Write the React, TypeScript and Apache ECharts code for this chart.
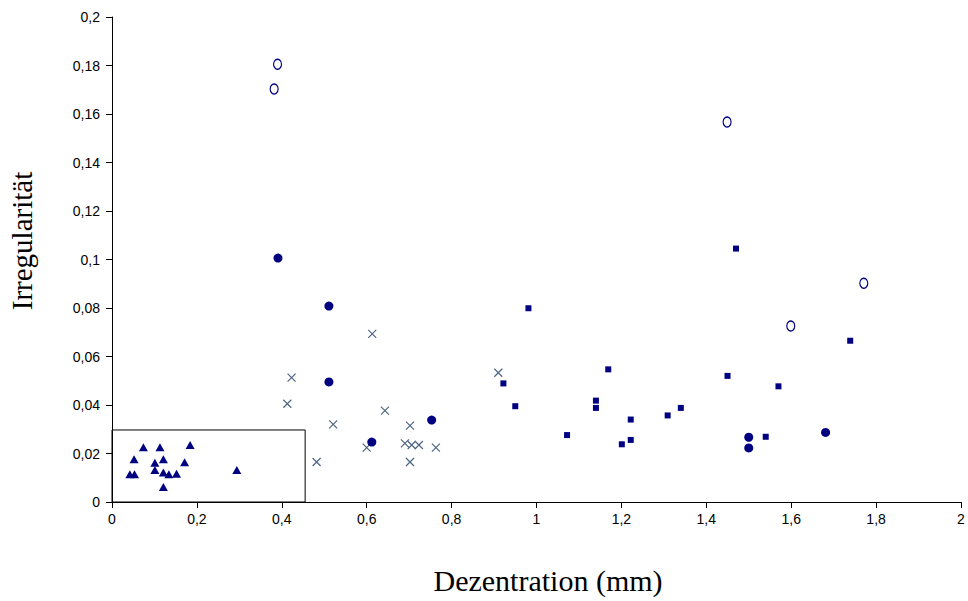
import React, { useEffect, useRef } from "react";
import * as echarts from "echarts";

// [Dezentration (mm), Irregularität]
const triangles: [number, number][] = [
  [0.074, 0.0226], [0.113, 0.0226], [0.184, 0.0235], [0.052, 0.0176],
  [0.101, 0.0162], [0.121, 0.0176], [0.171, 0.0164], [0.042, 0.0114],
  [0.053, 0.0114], [0.101, 0.0132], [0.121, 0.0122], [0.134, 0.0114],
  [0.152, 0.0117], [0.121, 0.0062], [0.294, 0.0132],
];

const crosses: [number, number][] = [
  [0.613, 0.0693], [0.423, 0.0513], [0.413, 0.0405], [0.643, 0.0377],
  [0.521, 0.032], [0.702, 0.0315], [0.6, 0.0224], [0.69, 0.0242],
  [0.706, 0.0235], [0.723, 0.0235], [0.763, 0.0224], [0.482, 0.0165],
  [0.702, 0.0165], [0.91, 0.0533],
];

const filledCircles: [number, number][] = [
  [0.391, 0.1006], [0.511, 0.0808], [0.511, 0.0495], [0.612, 0.0247],
  [0.753, 0.0338], [1.5, 0.0267], [1.5, 0.0223], [1.681, 0.0287],
];

const openCircles: [number, number][] = [
  [0.39, 0.1805], [0.382, 0.1703], [1.449, 0.1567], [1.599, 0.0726],
  [1.771, 0.0902],
];

const squares: [number, number][] = [
  [0.981, 0.0799], [0.922, 0.0489], [0.95, 0.0395], [1.169, 0.0547],
  [1.14, 0.0418], [1.14, 0.0388], [1.072, 0.0276], [1.222, 0.034],
  [1.222, 0.0256], [1.201, 0.0238], [1.309, 0.0357], [1.34, 0.0388],
  [1.47, 0.1045], [1.45, 0.052], [1.57, 0.0477], [1.739, 0.0665],
  [1.54, 0.0269],
];

// Region enclosing the triangle group: upper-right corner
const boxCorner: [number, number] = [0.455, 0.0297];

const xTicks = [0, 0.2, 0.4, 0.6, 0.8, 1, 1.2, 1.4, 1.6, 1.8, 2];
const yTicks = [0, 0.02, 0.04, 0.06, 0.08, 0.1, 0.12, 0.14, 0.16, 0.18, 0.2];

const NAVY = "#000080";
const CROSS = "#4d6584";

const fmt = (v: number) => String(Math.round(v * 1000) / 1000).replace(".", ",");

export default function App() {
  const ref = useRef<HTMLDivElement>(null);

  useEffect(() => {
    if (!ref.current) return;
    const chart = echarts.init(ref.current, undefined, { renderer: "svg" });
    const axisCommon = {
      axisLine: { show: true, lineStyle: { color: "#000", width: 1 } },
      axisTick: { show: true, length: 6, lineStyle: { color: "#000" } },
      splitLine: { show: false },
    };
    const labelCommon = {
      color: "#000",
      fontFamily: "Liberation Sans, Arial",
      fontSize: 14,
      formatter: fmt,
    };
    chart.setOption({
      animation: false,
      backgroundColor: "#fff",
      grid: { left: 112, right: 7, top: 17, bottom: 99, containLabel: false },
      xAxis: {
        type: "value",
        min: xTicks[0],
        max: xTicks[xTicks.length - 1],
        interval: 0.2,
        ...axisCommon,
        axisLabel: { ...labelCommon, margin: 10 },
      },
      yAxis: {
        type: "value",
        min: yTicks[0],
        max: yTicks[yTicks.length - 1],
        interval: 0.02,
        ...axisCommon,
        axisLabel: { ...labelCommon, margin: 12 },
      },
      graphic: [
        {
          type: "text",
          x: 548,
          y: 580,
          style: {
            text: "Dezentration (mm)",
            font: "30px 'Liberation Serif', 'Times New Roman', serif",
            fill: "#000",
            align: "center",
            verticalAlign: "middle",
          },
        },
        {
          type: "text",
          x: 22,
          y: 241,
          rotation: Math.PI / 2,
          style: {
            text: "Irregularität",
            font: "29px 'Liberation Serif', 'Times New Roman', serif",
            fill: "#000",
            align: "center",
            verticalAlign: "middle",
          },
        },
      ],
      series: [
        {
          type: "scatter",
          data: triangles,
          symbol: "triangle",
          symbolSize: [9, 8],
          itemStyle: { color: NAVY, opacity: 1 },
          z: 3,
          markArea: {
            silent: true,
            itemStyle: { color: "transparent", borderColor: "#000", borderWidth: 1 },
            data: [[{ coord: [0, 0] }, { coord: boxCorner }]],
          },
        },
        {
          type: "scatter",
          data: crosses,
          symbol: "path://M0 0L10 10M10 0L0 10",
          symbolSize: 8,
          itemStyle: { color: "none", borderColor: CROSS, borderWidth: 1.2, opacity: 1 },
        },
        {
          type: "scatter",
          data: filledCircles,
          symbol: "circle",
          symbolSize: 9,
          itemStyle: { color: NAVY, opacity: 1 },
        },
        {
          type: "scatter",
          data: openCircles,
          symbol: "circle",
          symbolSize: [8, 10],
          itemStyle: { color: "#fff", borderColor: NAVY, borderWidth: 1.3, opacity: 1 },
        },
        {
          type: "scatter",
          data: squares,
          symbol: "rect",
          symbolSize: 6,
          itemStyle: { color: NAVY, opacity: 1 },
        },
      ],
    });
    return () => chart.dispose();
  }, []);

  return <div ref={ref} style={{ width: 968, height: 601, position: "absolute", left: 0, top: 0 }} />;
}
